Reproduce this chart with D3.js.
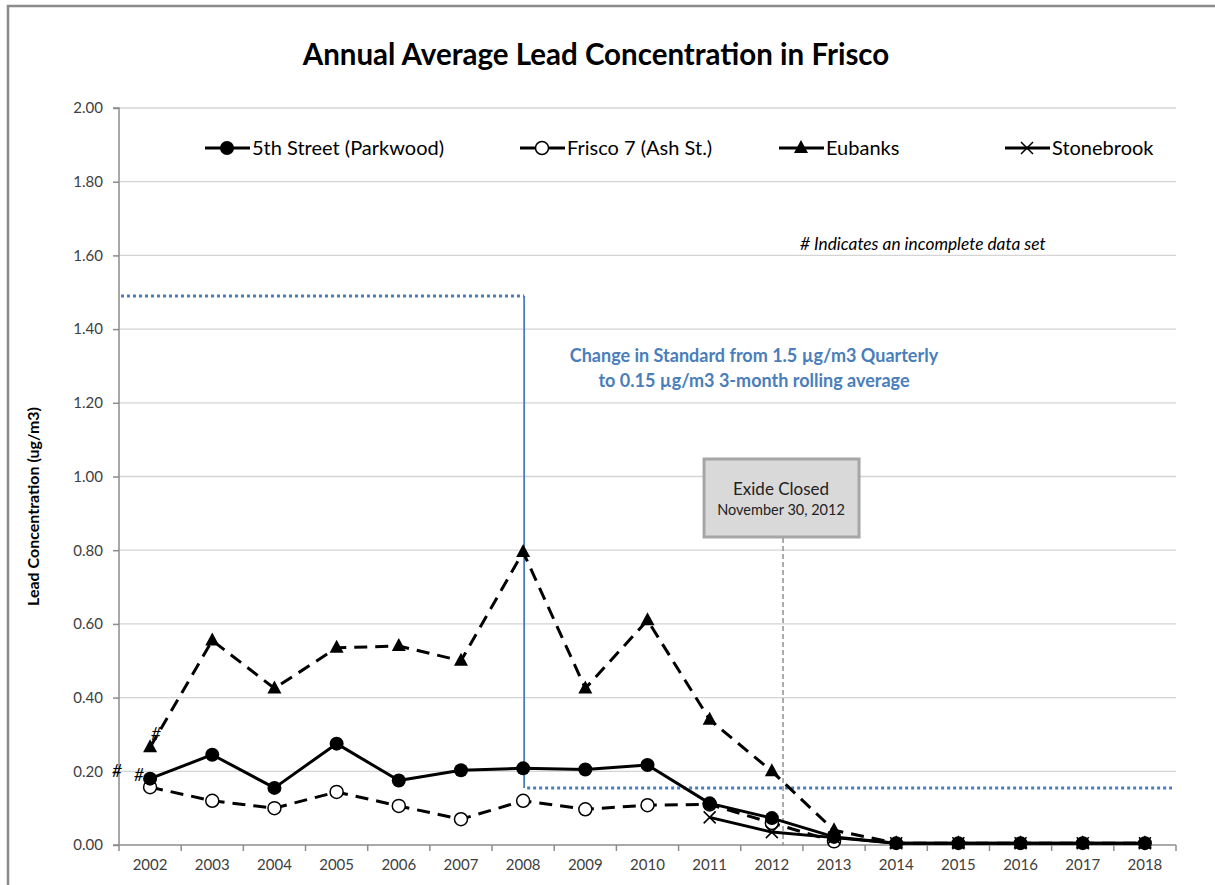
<!DOCTYPE html>
<html><head><meta charset="utf-8">
<script src="https://cdn.jsdelivr.net/npm/d3@7"></script>
<style>
body{margin:0;background:#fff;}
svg{display:block;font-family:Lato,"Open Sans",sans-serif;}
</style></head>
<body><svg id="c" width="1215" height="885"></svg>
<script>
const years = [2002,2003,2004,2005,2006,2007,2008,2009,2010,2011,2012,2013,2014,2015,2016,2017,2018];
const fifthStreet = [0.18,0.245,0.155,0.275,0.175,0.203,0.208,0.205,0.217,0.113,0.073,0.022,0.005,0.005,0.005,0.005,0.005];
const frisco7 = [0.157,0.12,0.10,0.144,0.106,0.07,0.12,0.097,0.108,0.11,0.06,0.01,null,null,null,null,null];
const eubanks = [0.265,0.555,0.425,0.535,0.54,0.50,0.795,0.425,0.61,0.34,0.2,0.04,0.005,0.005,0.005,0.005,0.005];
const stonebrook = [null,null,null,null,null,null,null,null,null,0.075,0.035,0.02,0.005,0.005,0.005,0.005,0.005];
const yTicks = [0,0.2,0.4,0.6,0.8,1.0,1.2,1.4,1.6,1.8,2.0];
const oldStandard = 1.49, newStandard = 0.155, standardChangeYear = 2008;
const exideYear = 2012, exideFrac = 0.18;

const svg = d3.select("#c");
const L=119, R=1176, T=108, B=845;
const x = d3.scalePoint().domain(years).range([L,R]).padding(0.5);
const y = d3.scaleLinear().domain([0,2]).range([B,T]);
const step = x.step();

// frame
svg.append("path").attr("d","M8,885V6H1215").attr("fill","none").attr("stroke","#8c8c8c").attr("stroke-width",2.5);

// title
svg.append("text").attr("x",596).attr("y",65).attr("text-anchor","middle")
  .attr("font-size",29.5).attr("font-weight","bold").attr("fill","#000")
  .text("Annual Average Lead Concentration in Frisco");

// gridlines
svg.append("g").selectAll("line").data(yTicks.filter(d=>d>0)).join("line")
  .attr("x1",L).attr("x2",R).attr("y1",d=>y(d)).attr("y2",d=>y(d))
  .attr("stroke","#d4d4d4").attr("stroke-width",1.3);

// y axis
const yAxis = svg.append("g").attr("transform",`translate(${L},0)`)
  .call(d3.axisLeft(y).tickValues(yTicks).tickFormat(d3.format(".2f")).tickSize(6).tickPadding(10));
yAxis.select(".domain").attr("stroke","#8c8c8c").attr("stroke-width",1.5).attr("d",`M-6,${T}H0V${B}H-6`);
yAxis.selectAll(".tick line").attr("stroke","#8c8c8c").attr("stroke-width",1.5);
yAxis.selectAll("text").attr("font-size",15).attr("fill","#404040").attr("font-family","Lato,sans-serif");

// x axis
const xg = svg.append("g").attr("transform",`translate(0,${B})`);
xg.append("line").attr("x1",L).attr("x2",R).attr("stroke","#8c8c8c").attr("stroke-width",1.5);
const bounds = d3.range(years.length+1).map(i=>L+i*step);
xg.selectAll("line.t").data(bounds).join("line").attr("class","t")
  .attr("x1",d=>d).attr("x2",d=>d).attr("y1",0).attr("y2",6).attr("stroke","#8c8c8c").attr("stroke-width",1.5);
xg.selectAll("text").data(years).join("text").attr("x",d=>x(d)).attr("y",25)
  .attr("text-anchor","middle").attr("font-size",15).attr("fill","#404040").text(d=>d);

// y label
svg.append("text").attr("transform",`translate(39,${(T+B)/2+30}) rotate(-90)`).attr("text-anchor","middle")
  .attr("font-size",16).attr("font-weight","bold").attr("fill","#000").text("Lead Concentration (ug/m3)");

// standards
const blue="#4a7ebb";
const xc = x(standardChangeYear)+1;
svg.append("line").attr("x1",L+2).attr("x2",xc).attr("y1",y(oldStandard)).attr("y2",y(oldStandard))
  .attr("stroke",blue).attr("stroke-width",3).attr("stroke-dasharray","3,3");
svg.append("line").attr("x1",xc).attr("x2",xc).attr("y1",y(oldStandard)).attr("y2",y(newStandard))
  .attr("stroke",blue).attr("stroke-width",1.8);
svg.append("line").attr("x1",xc+3).attr("x2",R-4).attr("y1",y(newStandard)).attr("y2",y(newStandard))
  .attr("stroke",blue).attr("stroke-width",3).attr("stroke-dasharray","3,3");
svg.append("text").attr("x",754).attr("y",362).attr("text-anchor","middle").attr("font-size",18)
  .attr("font-weight","bold").attr("fill",blue).text("Change in Standard from 1.5 µg/m3 Quarterly");
svg.append("text").attr("x",754).attr("y",387).attr("text-anchor","middle").attr("font-size",18)
  .attr("font-weight","bold").attr("fill",blue).text("to 0.15 µg/m3 3-month rolling average");

// incomplete note
svg.append("text").attr("x",800).attr("y",250).attr("font-size",17.3).attr("font-style","italic")
  .attr("fill","#000").text("# Indicates an incomplete data set");

// Exide
const ex = x(exideYear)+exideFrac*step;
svg.append("line").attr("x1",ex).attr("x2",ex).attr("y1",538).attr("y2",B)
  .attr("stroke","#808080").attr("stroke-width",1.3).attr("stroke-dasharray","5,3");
svg.append("rect").attr("x",ex-79).attr("y",459).attr("width",155).attr("height",78)
  .attr("fill","#d9d9d9").attr("stroke","#a6a6a6").attr("stroke-width",3);
svg.append("text").attr("x",ex-2).attr("y",495).attr("text-anchor","middle").attr("font-size",17).attr("fill","#222").text("Exide Closed");
svg.append("text").attr("x",ex-2).attr("y",515).attr("text-anchor","middle").attr("font-size",14.5).attr("fill","#222").text("November 30, 2012");

// series
const series = [
  {name:"Eubanks", vals:eubanks, dash:"13,8", marker:"tri"},
  {name:"Frisco 7 (Ash St.)", vals:frisco7, dash:"13,8", marker:"open"},
  {name:"Stonebrook", vals:stonebrook, dash:null, marker:"x"},
  {name:"5th Street (Parkwood)", vals:fifthStreet, dash:null, marker:"fill"}
];
const line = d3.line().defined(d=>d[1]!=null).x(d=>x(d[0])).y(d=>y(d[1]));
function drawMarker(g, type, cx, cy){
  if(type==="fill") g.append("circle").attr("cx",cx).attr("cy",cy).attr("r",7).attr("fill","#000");
  else if(type==="open") g.append("circle").attr("cx",cx).attr("cy",cy).attr("r",6.5).attr("fill","#fff").attr("stroke","#000").attr("stroke-width",1.5);
  else if(type==="tri") g.append("path").attr("d",`M${cx},${cy-8}L${cx+7},${cy+5}L${cx-7},${cy+5}Z`).attr("fill","#000");
  else if(type==="x") g.append("path").attr("d",`M${cx-6},${cy-6}L${cx+6},${cy+6}M${cx+6},${cy-6}L${cx-6},${cy+6}`).attr("stroke","#000").attr("stroke-width",1.5);
}
series.forEach(s=>{
  const pts = years.map((yr,i)=>[yr,s.vals[i]]);
  const g = svg.append("g");
  g.append("path").attr("d",line(pts)).attr("fill","none").attr("stroke","#000").attr("stroke-width",3)
    .attr("stroke-dasharray",s.dash).attr("stroke-linejoin","round");
  pts.filter(p=>p[1]!=null).forEach(p=>drawMarker(g,s.marker,x(p[0]),y(p[1])));
});

// incomplete markers
const hashes = [
  {dx:-38, v:fifthStreet[0], dy:-2},
  {dx:-16, v:fifthStreet[0], dy:2},
  {dx:1, v:eubanks[0], dy:-7}
];
hashes.forEach(h=>svg.append("text").attr("x",x(2002)+h.dx).attr("y",y(h.v)+h.dy)
  .attr("font-size",17).attr("font-style","italic").attr("fill","#000").text("#"));

// legend
const legend = [
  {name:"5th Street (Parkwood)", marker:"fill", x:205},
  {name:"Frisco 7 (Ash St.)", marker:"open", x:520},
  {name:"Eubanks", marker:"tri", x:779},
  {name:"Stonebrook", marker:"x", x:1005}
];
legend.forEach(l=>{
  const g = svg.append("g");
  g.append("line").attr("x1",l.x).attr("x2",l.x+45).attr("y1",148).attr("y2",148).attr("stroke","#000").attr("stroke-width",3);
  drawMarker(g,l.marker,l.x+22,148);
  g.append("text").attr("x",l.x+47).attr("y",155).attr("font-size",20).attr("fill","#000").text(l.name);
});
</script></body></html>
